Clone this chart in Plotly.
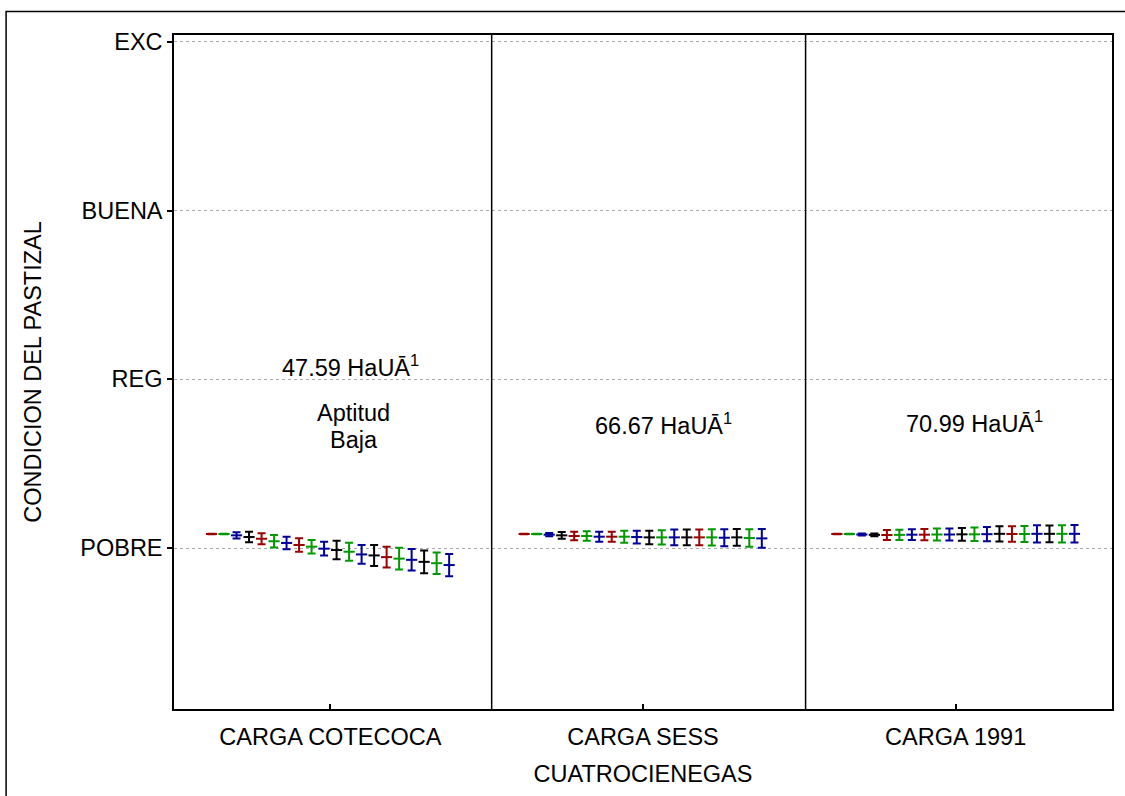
import plotly.graph_objects as go

# Grazing-load scenarios (x categories) and range-condition classes (y)
groups = ["CARGA COTECOCA", "CARGA SESS", "CARGA 1991"]
levels = ["POBRE", "REG", "BUENA", "EXC"]
level_vals = [1, 2, 3, 4]

# Projected condition (mean) and half-width of the interval, 20 steps per scenario
cotecoca_mean = [1.083, 1.083, 1.075, 1.065, 1.055, 1.040, 1.030, 1.018, 1.008, 0.996,
                 0.988, 0.978, 0.962, 0.956, 0.946, 0.937, 0.930, 0.918, 0.910, 0.899]
cotecoca_err = [0.002, 0.002, 0.018, 0.031, 0.033, 0.037, 0.037, 0.040, 0.040, 0.041,
                0.055, 0.053, 0.056, 0.062, 0.061, 0.064, 0.064, 0.067, 0.064, 0.066]

sess_mean = [1.083, 1.083, 1.079, 1.075, 1.071, 1.071, 1.067, 1.067, 1.067, 1.065,
             1.063, 1.063, 1.063, 1.063, 1.063, 1.063, 1.061, 1.063, 1.059, 1.057]
sess_err = [0.002, 0.002, 0.010, 0.020, 0.025, 0.028, 0.030, 0.030, 0.036, 0.038,
            0.040, 0.042, 0.046, 0.046, 0.047, 0.048, 0.050, 0.050, 0.052, 0.055]

c1991_mean = [1.083, 1.083, 1.080, 1.078, 1.077, 1.078, 1.079, 1.079, 1.080, 1.080,
              1.081, 1.081, 1.082, 1.084, 1.083, 1.083, 1.084, 1.084, 1.084, 1.084]
c1991_err = [0.002, 0.002, 0.006, 0.008, 0.030, 0.030, 0.032, 0.033, 0.035, 0.036,
             0.038, 0.040, 0.042, 0.045, 0.046, 0.047, 0.051, 0.050, 0.051, 0.052]

# Colour code of each of the 20 steps
step_colors = ["r", "g", "b", "k", "r", "g", "b", "r", "g", "b",
               "k", "g", "b", "k", "r", "g", "b", "k", "g", "b"]
palette = {"r": "#990000", "g": "#009900", "b": "#000099", "k": "#000000"}

# Stocking-rate labels per scenario
carga_labels = ["47.59 HaUĀ<sup>1</sup>", "66.67 HaUĀ<sup>1</sup>", "70.99 HaUĀ<sup>1</sup>"]
carga_label_x = [0.066, 1.065, 2.06]
carga_label_y = [2.08, 1.735, 1.746]
aptitud_lines = ["Aptitud", "Baja"]
aptitud_x = 0.075
aptitud_y = [1.80, 1.64]

FONT = "Liberation Sans, Arial, sans-serif"
FS = 23.5
means = [cotecoca_mean, sess_mean, c1991_mean]
errs = [cotecoca_err, sess_err, c1991_err]
n_steps = len(step_colors)
spacing = 0.04

fig = go.Figure()
for key in ["r", "g", "b", "k"]:
    xs, ys, es = [], [], []
    for g in range(len(groups)):
        for i in range(n_steps):
            if step_colors[i] == key:
                xs.append(g + (i - (n_steps - 1) / 2) * spacing)
                ys.append(means[g][i])
                es.append(errs[g][i])
    fig.add_trace(go.Scatter(
        x=xs, y=ys, mode="markers",
        marker=dict(symbol="line-ew", size=8, color=palette[key],
                    line=dict(color=palette[key], width=2)),
        error_y=dict(type="data", array=es, visible=True, color=palette[key],
                     thickness=2, width=4),
        showlegend=False, hoverinfo="skip",
    ))

y_range = [0.046, 4.04]

fig.update_layout(
    width=1125, height=796,
    margin=dict(l=174, r=13, t=35, b=87),
    paper_bgcolor="white", plot_bgcolor="white",
    font=dict(family=FONT, size=FS, color="black"),
    xaxis=dict(
        range=[-0.5, 2.5], tickvals=[0, 1, 2], ticktext=groups,
        ticks="inside", ticklen=5, tickwidth=1.5, tickcolor="black",
        showline=True, linecolor="black", linewidth=1.5, mirror=True,
        showgrid=False, zeroline=False, ticklabelstandoff=6,
        title=dict(text="CUATROCIENEGAS", standoff=17, font=dict(size=FS)),
    ),
    yaxis=dict(
        range=y_range, tickvals=level_vals, ticktext=levels,
        ticks="outside", ticklen=5, tickwidth=1.5, tickcolor="black",
        showline=True, linecolor="black", linewidth=1.5, mirror=True,
        showgrid=True, gridcolor="#aaaaaa", gridwidth=1, griddash="dot",
        zeroline=False, ticklabelstandoff=0,
        title=dict(text="CONDICION DEL PASTIZAL", standoff=32, font=dict(size=FS)),
    ),
    yaxis2=dict(
        range=y_range, tickvals=level_vals, overlaying="y", side="right",
        ticks="inside", ticklen=5, tickwidth=1.5, tickcolor="black",
        showticklabels=False, showgrid=False, zeroline=False, showline=False,
    ),
)

# Panel separators between scenarios
for xb in [0.516, 1.52]:
    fig.add_shape(type="line", xref="x", yref="paper", x0=xb, x1=xb, y0=0, y1=1,
                  line=dict(color="black", width=1.5))

# Outer frame of the graphic
fig.add_shape(type="rect", xref="paper", yref="paper",
              x0=-0.179, x1=1.03, y0=-0.2, y1=1.035,
              line=dict(color="black", width=1.5), layer="below")

for txt, x, y in zip(carga_labels, carga_label_x, carga_label_y):
    fig.add_annotation(x=x, y=y, text=txt, showarrow=False,
                       font=dict(family=FONT, size=FS, color="black"))
for txt, y in zip(aptitud_lines, aptitud_y):
    fig.add_annotation(x=aptitud_x, y=y, text=txt, showarrow=False,
                       font=dict(family=FONT, size=FS, color="black"))

fig.write_html("out.html")
